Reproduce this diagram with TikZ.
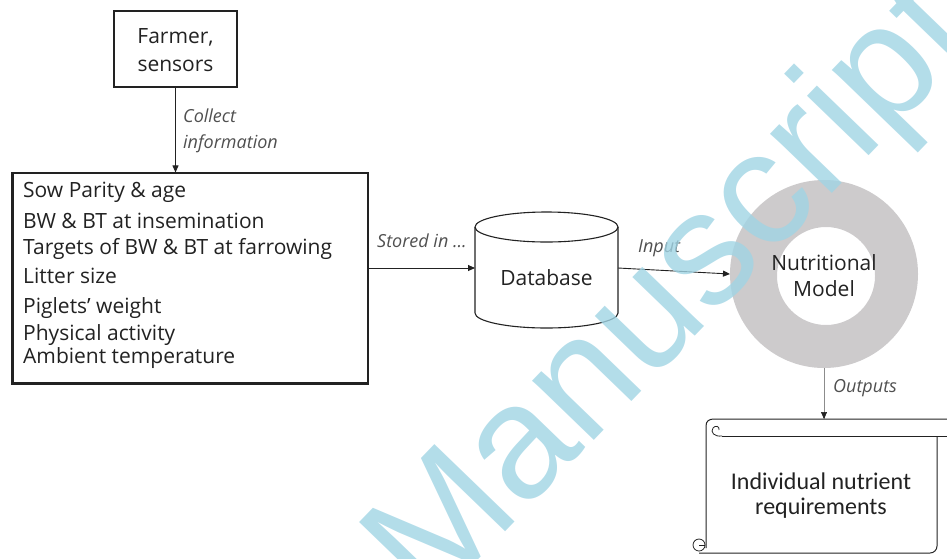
\documentclass[tikz,border=0pt]{standalone}
\usepackage{fontspec}
\setmainfont{Open Sans}
\newfontfamily\calfont{Carlito}
\newfontfamily\wmfont{Liberation Sans}
\usetikzlibrary{arrows.meta,calc}
\definecolor{ink}{RGB}{34,34,34}
\definecolor{lbl}{RGB}{80,80,80}
\definecolor{ring}{RGB}{205,203,204}
\definecolor{wmblue}{RGB}{160,212,228}
\begin{document}
\begin{tikzpicture}[x=1pt,y=-1pt,
  box/.style={draw=ink, line width=1.1pt, inner sep=0pt},
  txt/.style={text=ink, font=\fontsize{21}{25}\selectfont, inner sep=0pt},
  ltxt/.style={txt, anchor=base west},
  lab/.style={text=lbl, font=\itshape\fontsize{18}{25}\selectfont, inner sep=0pt, anchor=base west},
  arr/.style={draw=ink, line width=0.9pt, -{Triangle[length=7pt,width=6pt]}},
  ghost/.style={inner sep=0pt, outer sep=0pt}]
\useasboundingbox (0,0) rectangle (947,558);

% Farmer box
\node[box, minimum width=123pt, minimum height=76pt] (farmer) at (175.5,49) {};
\node[txt, anchor=base] (f1) at (175.5,43) {Farmer,};
\node[txt, anchor=base] (f2) at (175.5,71) {sensors};

% list box
\node[box, minimum width=355pt, minimum height=210pt] (list) at (190.5,278) {};
\draw[ink, line width=2.4pt] (list.north west) -- (list.south west) -- (list.south east);
\node[ltxt] (l1) at (23,197) {Sow Parity \& age};
\node[ltxt] (l2) at (23,228) {BW \& BT at insemination};
\node[ltxt] (l3) at (23,254) {Targets of BW \& BT at farrowing};
\node[ltxt] (l4) at (23,283) {Litter size};
\node[ltxt] (l5) at (23,313) {Piglets' weight};
\node[ltxt] (l6) at (23,340) {Physical activity};
\node[ltxt] (l7) at (23,363) {Ambient temperature};

% collect arrow
\draw[arr] (farmer.south) -- (farmer.south |- list.north);
\node[lab] (c1) at (183,122) {Collect};
\node[lab] (c2) at (183,148) {information};

% database
\node[ghost, minimum width=143pt, minimum height=116pt] (db) at (546.5,268) {};
\draw[ink, line width=1.1pt, fill=white] (546.5,227) ellipse [x radius=71.5, y radius=15];
\draw[ink, line width=1.1pt] (475,227) -- (475,313) arc[start angle=180, end angle=0, x radius=71.5, y radius=15] -- (618,227);
\node[txt, anchor=base] (dbt) at (546.5,285) {Database};

\draw[arr] (list.east |- db.west) -- (db.west);
\node[lab] (s1) at (377,247) {Stored in ...};

% nutritional model ring
\fill[ring, even odd rule] (824,274) circle[radius=94] (826,276) circle[radius=49];
\node[ghost, circle, minimum size=188pt] (model) at (824,274) {};
\node[txt, anchor=base] (m1) at (824,270) {Nutritional};
\node[txt, anchor=base] (m2) at (824,296) {Model};

\draw[arr] (db.east) -- (model.west);
\node[lab] (i1) at (638,252) {Input};

% scroll
\node[ghost, minimum width=231pt, minimum height=134pt] (scroll) at (821.5,486) {};
\draw[ink, line width=1pt] (950,419) -- (714,419) .. controls (709,419) and (706,421) .. (706,426) -- (706,548);
\draw[ink, line width=1pt] (950,436) -- (722,436);
\draw[ink, line width=0.8pt] (722,436) .. controls (714,437) and (710,432) .. (713,428) .. controls (715,425) and (720,426) .. (719,430);
\draw[ink, line width=1pt] (699,553) -- (930,553) arc[start angle=90, end angle=0, radius=7] -- (937,436);
\draw[ink, line width=0.8pt] (699,545) circle[radius=6];
\draw[ink, line width=0.8pt] (699,545) -- (705,545);
\node[txt, anchor=base, font=\calfont\fontsize{24}{28}\selectfont] (r1) at (821,489) {Individual nutrient};
\node[txt, anchor=base, font=\calfont\fontsize{24}{28}\selectfont] (r2) at (821,514) {requirements};

\coordinate (otip) at (model.south |- scroll.north);
\draw[draw=black!45, line width=0.6pt] (model.south) -- (otip);
\draw[-{Triangle[length=7pt,width=6pt]}, draw=ink, line width=0.6pt] ($(otip)+(0,-2)$) -- (otip);
\node[lab] (o1) at (833,392) {Outputs};

% watermark
\node[inner sep=0pt, anchor=base west, rotate=46, text=wmblue, text opacity=0.8, font=\wmfont\fontsize{162}{162}\selectfont] (wm) at (430,610) {Manuscript};
\end{tikzpicture}
\end{document}
